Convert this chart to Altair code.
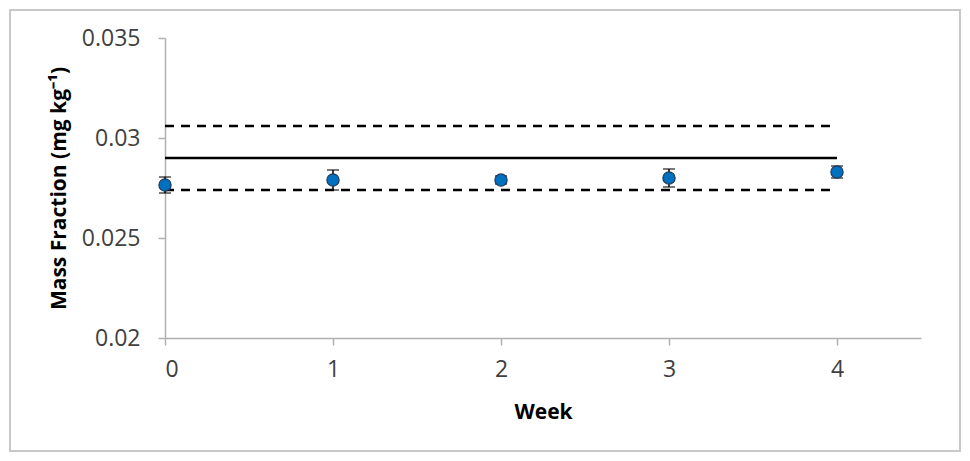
import altair as alt
import pandas as pd

weeks = [0, 1, 2, 3, 4]
mass_fraction = [0.02765, 0.0279, 0.0279, 0.0280, 0.0283]
uncertainty = [0.0004, 0.0005, 0.0002, 0.00045, 0.0003]

ref_value = 0.0290
ref_upper = 0.0306
ref_lower = 0.0274
ref_weeks = [0, 4]

pts = pd.DataFrame({
    "week": weeks,
    "mf": mass_fraction,
    "lo": [m - u for m, u in zip(mass_fraction, uncertainty)],
    "hi": [m + u for m, u in zip(mass_fraction, uncertainty)],
})

lines = pd.DataFrame({
    "week": ref_weeks * 3,
    "val": [ref_value] * 2 + [ref_upper] * 2 + [ref_lower] * 2,
    "line": ["mean"] * 2 + ["upper"] * 2 + ["lower"] * 2,
})

FONT = "Open Sans"
YTITLE = "Mass Fraction (mg kg\u207b\u00b9)"

xscale = alt.Scale(domain=[0, 4.5], nice=False)
yscale = alt.Scale(domain=[0.02, 0.035], nice=False, zero=False)
xaxis = alt.Axis(title="Week", values=[0, 1, 2, 3, 4], format="d")
yaxis = alt.Axis(title=YTITLE, values=[0.02, 0.025, 0.03, 0.035],
                 labelExpr="format(datum.value, '.3~f')")


def X(f):
    return alt.X(f, scale=xscale, axis=xaxis, title="Week")


def Y(f):
    return alt.Y(f, scale=yscale, axis=yaxis, title=YTITLE)


solid = alt.Chart(lines[lines.line == "mean"]).mark_line(color="black", strokeWidth=2.5).encode(
    x=X("week:Q"), y=Y("val:Q"), detail="line:N")
dashed = alt.Chart(lines[lines.line != "mean"]).mark_line(
    color="black", strokeWidth=2.5, strokeDash=[9, 7]).encode(
    x=X("week:Q"), y=Y("val:Q"), detail="line:N")

err = alt.Chart(pts).mark_errorbar(ticks=alt.MarkConfig(size=12), color="black", thickness=1.5).encode(
    x=X("week:Q"), y=Y("lo:Q"), y2="hi:Q")

dots = alt.Chart(pts).mark_point(filled=True, size=150, color="#0070C0",
                                 stroke="#1f3a5a", strokeWidth=1.2, opacity=1).encode(
    x=X("week:Q"), y=Y("mf:Q"))

border = alt.Chart(pts).mark_rect(fill=None, stroke="#c8c8c8", strokeWidth=1.5, clip=False).encode(
    x=alt.value(-155), x2=alt.value(795), y=alt.value(-28), y2=alt.value(413))

chart = alt.layer(border, solid, dashed, err, dots).properties(
    width=756, height=300,
    autosize=alt.AutoSizeParams(type="none"),
    padding={"left": 157, "top": 30, "right": 41, "bottom": 115},
).configure_view(stroke=None).configure_axis(
    grid=False, domainColor="#b0b0b0", tickColor="#b0b0b0", domainWidth=1.5, tickWidth=1.5,
    tickSize=7, labelFont=FONT, labelFontSize=23, labelColor="#404040",
    titleFont=FONT, titleFontSize=21, titleFontWeight="bold", titleColor="#000000",
).configure_axisY(titlePadding=12, labelPadding=18).configure_axisX(titlePadding=20, labelPadding=13)

chart.save("out.html", embed_options={"renderer": "svg", "actions": False})
